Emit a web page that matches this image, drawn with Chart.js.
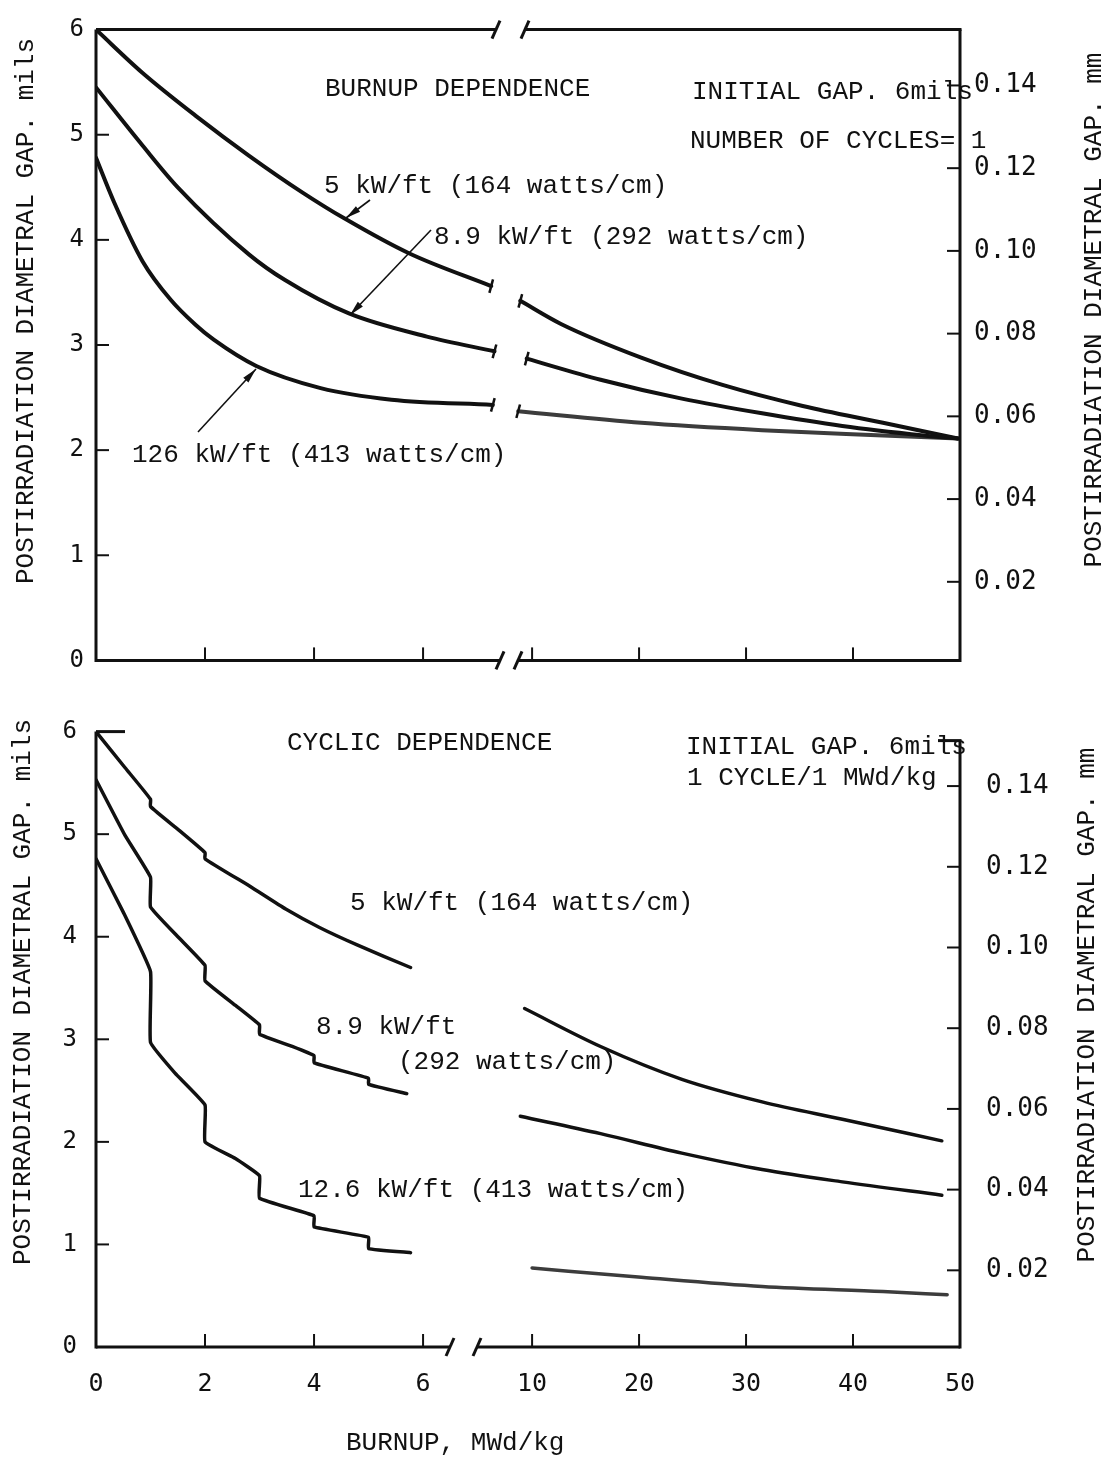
<!DOCTYPE html>
<html>
<head>
<meta charset="utf-8">
<title>Postirradiation diametral gap vs burnup</title>
<script src="https://cdn.jsdelivr.net/npm/chart.js@4.4.1/dist/chart.umd.min.js"></script>
<style>
  html, body { margin: 0; padding: 0; background: #fff; }
  #wrap { position: relative; width: 1110px; height: 1461px; }
  canvas { position: absolute; left: 0; }
  #burnupChart { top: 0; }
  #cyclicChart { top: 690px; }
</style>
</head>
<body>
<div id="wrap">
  <canvas id="burnupChart" width="1110" height="690"></canvas>
  <canvas id="cyclicChart" width="1110" height="771"></canvas>
</div>
<script>
// ticks (burnup axis is broken between 6 and 10 MWd/kg)
const xTickValues = [0, 2, 4, 6, 10, 20, 30, 40, 50];
const xTickLabels = ['0', '2', '4', '6', '10', '20', '30', '40', '50'];
const yTickValues = [0, 1, 2, 3, 4, 5, 6];
const mmTickValues = [0.02, 0.04, 0.06, 0.08, 0.10, 0.12, 0.14];

// burnup dependence (top panel), gap in mils
const b5LoX = [0, 0.85, 1.83, 2.81, 3.79, 4.57, 5.75, 7.25];
const b5LoY = [6.00, 5.59, 5.18, 4.80, 4.45, 4.20, 3.87, 3.56];
const b5HiX = [8.9, 12.7, 20.2, 27.8, 35.3, 42.8, 49.8];
const b5HiY = [3.42, 3.20, 2.88, 2.62, 2.42, 2.26, 2.11];
const b89LoX = [0, 0.85, 1.50, 2.81, 3.46, 4.64, 6.07, 7.31];
const b89LoY = [5.45, 4.90, 4.50, 3.86, 3.62, 3.30, 3.08, 2.94];
const b89HiX = [9.5, 16.4, 24.0, 31.5, 39.0, 46.6, 49.8];
const b89HiY = [2.87, 2.67, 2.49, 2.35, 2.23, 2.14, 2.11];
const b126LoX = [0, 0.33, 0.85, 1.37, 1.83, 2.16, 2.94, 4.12, 5.42, 7.28];
const b126LoY = [4.78, 4.36, 3.80, 3.43, 3.19, 3.05, 2.80, 2.59, 2.48, 2.43];
const b126HiX = [8.7, 20.2, 31.5, 42.8, 49.8];
const b126HiY = [2.37, 2.26, 2.19, 2.14, 2.11];

// cyclic dependence (bottom panel), 1 cycle per MWd/kg
const c5LoX = [0, 0.53, 1, 1, 1.52, 2, 2, 2.83, 3.48, 4.1, 4.79, 5.77];
const c5LoY = [6.00, 5.65, 5.34, 5.27, 5.04, 4.82, 4.76, 4.49, 4.27, 4.09, 3.92, 3.70];
const c5HiX = [9.3, 16.4, 24.0, 31.5, 39.0, 48.3];
const c5HiY = [3.30, 2.93, 2.61, 2.39, 2.22, 2.01];
const c89LoX = [0, 0.53, 1, 1, 1.52, 2, 2, 2.56, 3, 3, 3.6, 4, 4, 5, 5, 5.7];
const c89LoY = [5.53, 4.99, 4.58, 4.29, 3.99, 3.72, 3.57, 3.33, 3.14, 3.05, 2.93, 2.84, 2.77, 2.62, 2.56, 2.47];
const c89HiX = [8.9, 16.4, 24.0, 31.5, 39.0, 48.3];
const c89HiY = [2.25, 2.08, 1.89, 1.73, 1.61, 1.48];
const c126LoX = [0, 0.5, 1, 1, 1.45, 2, 2, 2.55, 3, 3, 4, 4, 5, 5, 5.77];
const c126LoY = [4.76, 4.24, 3.66, 2.97, 2.67, 2.36, 2.00, 1.84, 1.67, 1.45, 1.28, 1.17, 1.07, 0.96, 0.92];
const c126HiX = [10.0, 20.2, 31.5, 42.8, 48.8];
const c126HiY = [0.77, 0.68, 0.59, 0.54, 0.51];

// broken axis: 0..8 drawn as is, 10..50 compressed after the break
const AXIS_MAX = 15.85;
function toAxis(x) {
  return x < 8 ? x : 8 + (x - 10) * 0.19625;
}

const INK = '#111';
const NOTE_FONT = '26px "Liberation Mono"';
const NUM_FONT = '"DejaVu Sans Mono"';

function curve(xs, ys, extra) {
  return Object.assign({
    data: xs.map((x, i) => ({ x: toAxis(x), y: ys[i] })),
    borderColor: INK,
    borderWidth: 4,
    pointRadius: 0,
    fill: false,
    cubicInterpolationMode: 'monotone',
    borderJoinStyle: 'round',
    borderCapStyle: 'round'
  }, extra || {});
}

// little end marks where a curve stops at the axis break
function cap(atEnd) {
  return {
    pointStyle: 'line',
    pointRotation: 105,
    pointBorderWidth: 2.5,
    pointBorderColor: INK,
    pointRadius: c => {
      const last = c.dataset.data.length - 1;
      return (atEnd ? c.dataIndex === last : c.dataIndex === 0) ? 7 : 0;
    }
  };
}

function scalesFor(o) {
  return {
    x: {
      type: 'linear', min: 0, max: AXIS_MAX,
      grid: { display: false, drawTicks: false }, border: { display: false },
      afterBuildTicks: s => { s.ticks = xTickValues.map(v => ({ value: toAxis(v) })); },
      afterFit: s => { s.height = o.xHeight; },
      ticks: {
        display: o.xLabels, padding: 22, autoSkip: false, maxRotation: 0,
        color: INK, font: { family: NUM_FONT, size: 25 },
        callback: (v, i) => xTickLabels[i]
      }
    },
    y: {
      position: 'left', min: 0, max: 6,
      grid: { display: false, drawTicks: false }, border: { display: false },
      afterBuildTicks: s => { s.ticks = yTickValues.map(v => ({ value: v })); },
      afterFit: s => { s.width = 96; },
      ticks: { padding: o.yPad, color: INK, font: { family: NUM_FONT, size: 24 }, callback: v => String(v) }
    },
    mm: {
      position: 'right', min: 0.001, max: 0.1535,
      grid: { display: false, drawTicks: false }, border: { display: false },
      afterBuildTicks: s => { s.ticks = mmTickValues.map(v => ({ value: v })); },
      afterFit: s => { s.width = 150; },
      ticks: { padding: o.mmPad, color: INK, font: { family: NUM_FONT, size: 26 }, callback: v => v.toFixed(2) }
    }
  };
}

function seg(ctx, x1, y1, x2, y2) {
  ctx.beginPath(); ctx.moveTo(x1, y1); ctx.lineTo(x2, y2); ctx.stroke();
}
function slash(ctx, x, y) {
  seg(ctx, x - 4, y + 9, x + 4, y - 9);
}

// axes frame, inner ticks, notes and arrows
function decor(cfg) {
  return {
    id: 'decor',
    afterDraw(chart) {
      const ctx = chart.ctx;
      const a = chart.chartArea;
      const xs = chart.scales.x, ys = chart.scales.y, ms = chart.scales.mm;
      const dy = cfg.offsetY;
      ctx.save();
      ctx.strokeStyle = INK;
      ctx.lineWidth = 3;
      const rTop = a.top + cfg.rightTopGap;
      seg(ctx, a.left, a.top, a.left, a.bottom + 1.5);
      seg(ctx, a.right, rTop, a.right, a.bottom + 1.5);
      seg(ctx, a.left, a.bottom, cfg.bottomBreak[0], a.bottom);
      seg(ctx, cfg.bottomBreak[1], a.bottom, a.right, a.bottom);
      slash(ctx, cfg.bottomBreak[0], a.bottom);
      slash(ctx, cfg.bottomBreak[1], a.bottom);
      if (cfg.topBreak) {
        seg(ctx, a.left, a.top, cfg.topBreak[0], a.top);
        seg(ctx, cfg.topBreak[1], a.top, a.right + 1.5, a.top);
        slash(ctx, cfg.topBreak[0], a.top);
        slash(ctx, cfg.topBreak[1], a.top);
      } else {
        seg(ctx, a.left, a.top, a.left + 29, a.top);
        seg(ctx, a.right - 22, rTop, a.right + 1.5, rTop);
      }
      ctx.lineWidth = 2;
      const tl = 13;
      xs.ticks.forEach(t => {
        if (t.value <= 0 || t.value >= AXIS_MAX) return;
        const px = xs.getPixelForValue(t.value);
        seg(ctx, px, a.bottom, px, a.bottom - tl);
      });
      ys.ticks.forEach(t => {
        if (t.value <= 0 || t.value >= 6) return;
        const py = ys.getPixelForValue(t.value);
        seg(ctx, a.left, py, a.left + tl, py);
      });
      ms.ticks.forEach(t => {
        const py = ms.getPixelForValue(t.value);
        seg(ctx, a.right, py, a.right - tl, py);
      });
      // pointer arrows
      ctx.lineWidth = 1.6;
      ctx.fillStyle = INK;
      (cfg.arrows || []).forEach(([x1, y1, x2, y2]) => {
        y1 -= dy; y2 -= dy;
        seg(ctx, x1, y1, x2, y2);
        const ang = Math.atan2(y2 - y1, x2 - x1);
        ctx.beginPath();
        ctx.moveTo(x2, y2);
        ctx.lineTo(x2 - 15 * Math.cos(ang) + 3.5 * Math.sin(ang), y2 - 15 * Math.sin(ang) - 3.5 * Math.cos(ang));
        ctx.lineTo(x2 - 15 * Math.cos(ang) - 3.5 * Math.sin(ang), y2 - 15 * Math.sin(ang) + 3.5 * Math.cos(ang));
        ctx.closePath();
        ctx.fill();
      });
      // texts
      ctx.font = NOTE_FONT;
      ctx.textBaseline = 'middle';
      cfg.notes.forEach(n => {
        ctx.save();
        if (n.rot) {
          ctx.translate(n.x, n.y - dy);
          ctx.rotate(-Math.PI / 2);
          ctx.textAlign = 'center';
          ctx.fillText(n.t, 0, 0);
        } else {
          ctx.textAlign = 'left';
          ctx.fillText(n.t, n.x, n.y - dy);
        }
        ctx.restore();
      });
      ctx.restore();
    }
  };
}

function baseOptions(o) {
  return {
    responsive: false,
    animation: false,
    devicePixelRatio: 1,
    layout: { padding: { top: o.padTop, left: 0, right: 0, bottom: 0 } },
    plugins: { legend: { display: false }, tooltip: { enabled: false } },
    scales: scalesFor(o)
  };
}

const GREY = '#3c3c3c';

new Chart(document.getElementById('burnupChart'), {
  type: 'line',
  data: {
    datasets: [
      curve(b5LoX, b5LoY, cap(true)),
      curve(b5HiX, b5HiY, cap(false)),
      curve(b89LoX, b89LoY, cap(true)),
      curve(b89HiX, b89HiY, cap(false)),
      curve(b126LoX, b126LoY, cap(true)),
      curve(b126HiX, b126HiY, Object.assign(cap(false), { borderColor: GREY }))
    ]
  },
  options: baseOptions({ padTop: 22, xHeight: 18, xLabels: false, yPad: 12, mmPad: 14 }),
  plugins: [decor({
    offsetY: 0,
    rightTopGap: 0,
    topBreak: [496, 525],
    bottomBreak: [500, 518],
    arrows: [[370, 200, 346, 218], [431, 230, 350, 315], [198, 432, 256, 369]],
    notes: [
      { t: 'BURNUP DEPENDENCE', x: 325, y: 89 },
      { t: 'INITIAL GAP. 6mils', x: 692, y: 92 },
      { t: 'NUMBER OF CYCLES= 1', x: 690, y: 141 },
      { t: '5 kW/ft (164 watts/cm)', x: 324, y: 186 },
      { t: '8.9 kW/ft (292 watts/cm)', x: 434, y: 237 },
      { t: '126 kW/ft (413 watts/cm)', x: 132, y: 455 },
      { t: 'POSTIRRADIATION DIAMETRAL GAP. mils', x: 26, y: 311, rot: true },
      { t: 'POSTIRRADIATION DIAMETRAL GAP. mm', x: 1094, y: 310, rot: true }
    ]
  })]
});

new Chart(document.getElementById('cyclicChart'), {
  type: 'line',
  data: {
    datasets: [
      curve(c5LoX, c5LoY, { cubicInterpolationMode: 'default', tension: 0.15, borderWidth: 3.5 }),
      curve(c5HiX, c5HiY, { borderWidth: 3.5 }),
      curve(c89LoX, c89LoY, { cubicInterpolationMode: 'default', tension: 0.1, borderWidth: 3.5 }),
      curve(c89HiX, c89HiY, { borderWidth: 3.5 }),
      curve(c126LoX, c126LoY, { cubicInterpolationMode: 'default', tension: 0.1, borderWidth: 3.5 }),
      curve(c126HiX, c126HiY, { borderWidth: 3.5, borderColor: GREY })
    ]
  },
  options: baseOptions({ padTop: 16, xHeight: 114, xLabels: true, yPad: 19, mmPad: 26 }),
  plugins: [decor({
    offsetY: 690,
    rightTopGap: 9,
    topBreak: null,
    bottomBreak: [450, 477],
    arrows: [],
    notes: [
      { t: 'CYCLIC DEPENDENCE', x: 287, y: 743 },
      { t: 'INITIAL GAP. 6mils', x: 686, y: 747 },
      { t: '1 CYCLE/1 MWd/kg', x: 687, y: 778 },
      { t: '5 kW/ft (164 watts/cm)', x: 350, y: 903 },
      { t: '8.9 kW/ft', x: 316, y: 1027 },
      { t: '(292 watts/cm)', x: 398, y: 1062 },
      { t: '12.6 kW/ft (413 watts/cm)', x: 298, y: 1190 },
      { t: 'BURNUP, MWd/kg', x: 346, y: 1443 },
      { t: 'POSTIRRADIATION DIAMETRAL GAP. mils', x: 23, y: 992, rot: true },
      { t: 'POSTIRRADIATION DIAMETRAL GAP. mm', x: 1087, y: 1005, rot: true }
    ]
  })]
});
</script>
</body>
</html>
